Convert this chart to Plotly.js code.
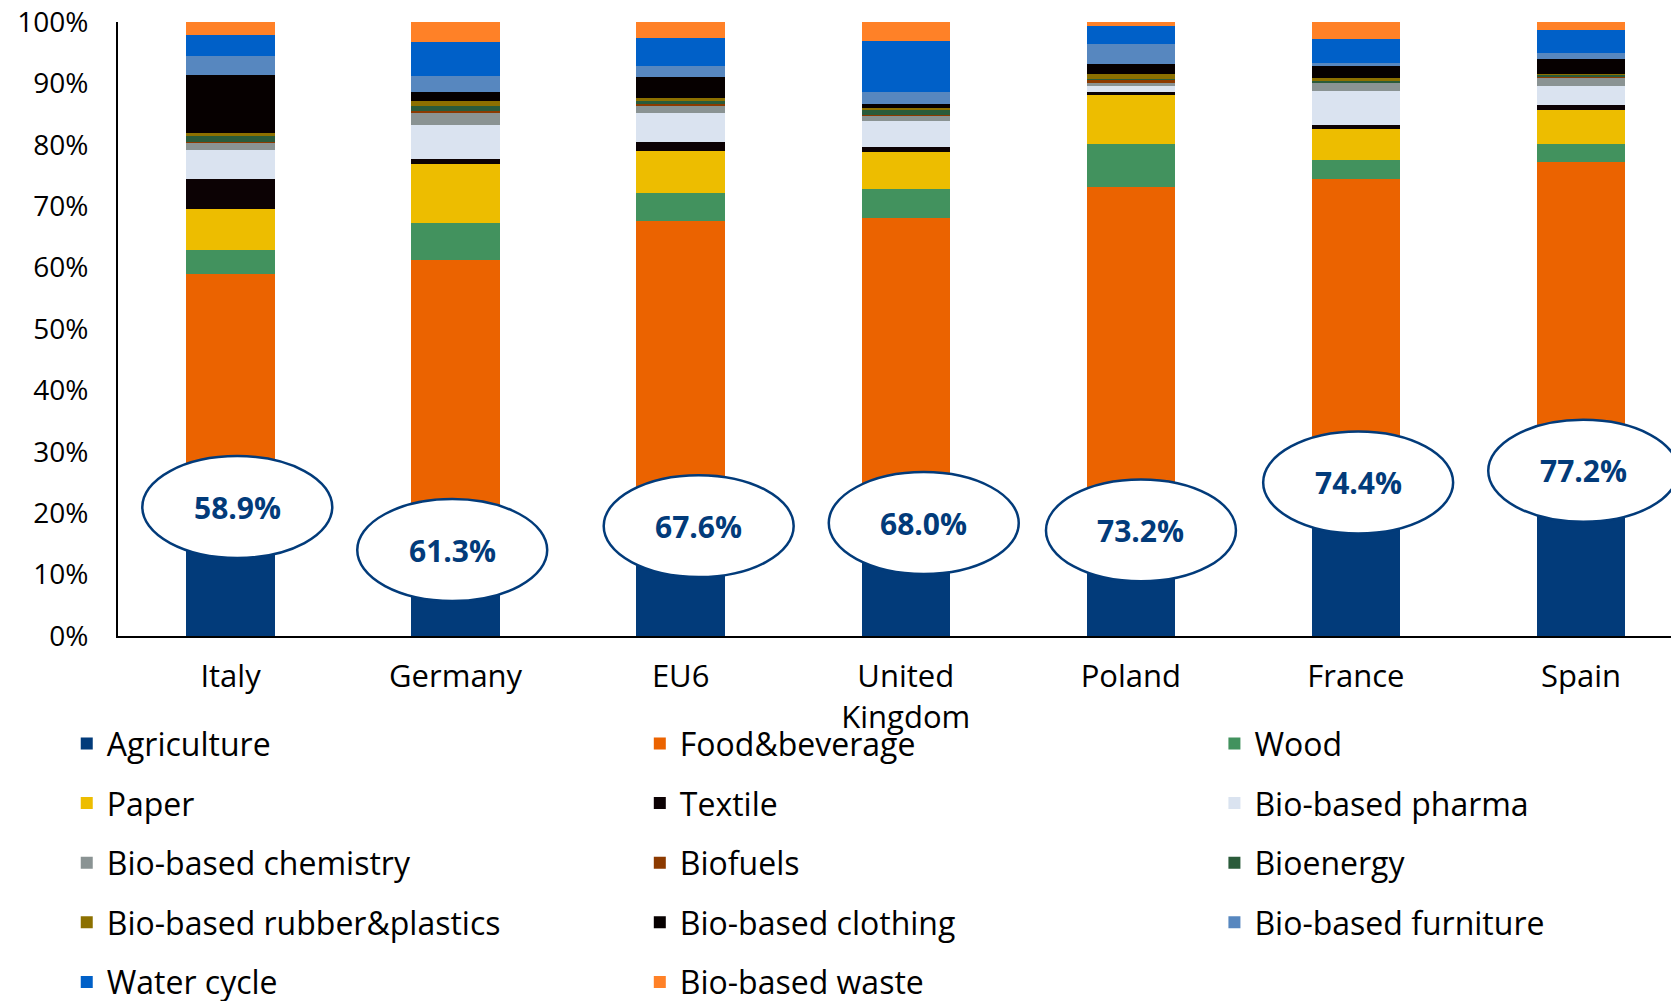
<!DOCTYPE html>
<html>
<head>
<meta charset="utf-8">
<script src="https://cdn.plot.ly/plotly-3.0.1.min.js"></script>
<style>html,body{margin:0;padding:0;background:#fff;}#chart{width:1671px;height:1001px;}</style>
</head>
<body>
<div id="chart"></div>
<script>
const countries = ["Italy", "Germany", "EU6", "United<br>Kingdom", "Poland", "France", "Spain"];

const agriculture  = [21.0, 14.0, 17.9, 18.4, 17.2, 25.0, 26.9];
const foodBeverage = [37.9, 47.3, 49.7, 49.6, 56.0, 49.4, 50.3];
const wood         = [4.0, 6.0, 4.5, 4.8, 6.9, 3.1, 2.9];
const paper        = [6.6, 9.5, 6.9, 6.1, 8.0, 5.1, 5.5];
const textile      = [4.9, 0.9, 1.5, 0.7, 0.5, 0.6, 0.9];
const pharma       = [4.7, 5.5, 4.6, 4.3, 1.0, 5.5, 3.1];
const chemistry    = [1.2, 2.0, 1.3, 0.8, 0.4, 1.3, 1.2];
const biofuels     = [0.1, 0.3, 0.2, 0.1, 0.5, 0.1, 0.2];
const bioenergy    = [1.0, 0.8, 0.5, 0.8, 0.2, 0.3, 0.3];
const rubber       = [0.6, 0.9, 0.6, 0.4, 0.8, 0.4, 0.3];
const clothing     = [9.4, 1.4, 3.3, 0.7, 1.6, 2.0, 2.3];
const furniture    = [3.0, 2.6, 1.9, 1.9, 3.3, 0.6, 1.0];
const waterCycle   = [3.5, 5.5, 4.5, 8.3, 3.0, 3.8, 3.8];
const waste        = [2.2, 3.3, 2.6, 3.1, 0.6, 2.8, 1.3];

// label ellipse horizontal nudges (category units) – layout only
const labelNudge = [0.03, -0.015, 0.08, 0.08, 0.045, 0.01, 0.01];

const series = [
  {name: "Agriculture", y: agriculture, color: "#023B7A", legend: "legend"},
  {name: "Food&beverage", y: foodBeverage, color: "#EB6300", legend: "legend2"},
  {name: "Wood", y: wood, color: "#42925E", legend: "legend3"},
  {name: "Paper", y: paper, color: "#EDBD00", legend: "legend"},
  {name: "Textile", y: textile, color: "#0C0204", legend: "legend2"},
  {name: "Bio-based pharma", y: pharma, color: "#DAE3F0", legend: "legend3"},
  {name: "Bio-based chemistry", y: chemistry, color: "#8A9393", legend: "legend"},
  {name: "Biofuels", y: biofuels, color: "#8C3A00", legend: "legend2"},
  {name: "Bioenergy", y: bioenergy, color: "#2A5B3A", legend: "legend3"},
  {name: "Bio-based rubber&plastics", y: rubber, color: "#8C7000", legend: "legend"},
  {name: "Bio-based clothing", y: clothing, color: "#060000", legend: "legend2"},
  {name: "Bio-based furniture", y: furniture, color: "#5787BF", legend: "legend3"},
  {name: "Water cycle", y: waterCycle, color: "#0060C8", legend: "legend"},
  {name: "Bio-based waste", y: waste, color: "#FF8127", legend: "legend2"}
];

const FONT = "'Open Sans', Lato, sans-serif";
const NAVY = "#023B7A";

const traces = series.map((s, i) => ({
  type: "bar",
  name: s.name,
  x: countries.map((c, k) => k),
  y: s.y,
  marker: {color: s.color, line: {width: 0}},
  legend: s.legend,
  legendgroup: "g" + i,
  hoverinfo: "name+y"
}));

const shapes = [];
const annotations = [];
countries.forEach((c, k) => {
  const cx = k + labelNudge[k];
  const cy = agriculture[k];
  shapes.push({
    type: "circle", xref: "x", yref: "y",
    x0: cx - 0.422, x1: cx + 0.422, y0: cy - 8.3, y1: cy + 8.3,
    fillcolor: "#ffffff", line: {color: NAVY, width: 2.5}, layer: "above"
  });
  annotations.push({
    x: cx, y: cy, xref: "x", yref: "y", showarrow: false,
    text: "<b>" + (agriculture[k] + foodBeverage[k]).toFixed(1) + "%</b>",
    font: {family: FONT, size: 30, color: NAVY}
  });
});

const legendBase = {
  orientation: "v", yanchor: "top", xanchor: "left",
  yref: "container", y: 0.2845, bgcolor: "rgba(0,0,0,0)",
  font: {family: FONT, size: 32, color: "#000"},
  tracegroupgap: 15, traceorder: "grouped", itemwidth: 30
};

const layout = {
  width: 1671, height: 1001,
  margin: {l: 118, r: 0, t: 22, b: 365},
  paper_bgcolor: "#fff", plot_bgcolor: "#fff",
  barmode: "stack", bargap: 0.607,
  showlegend: true,
  font: {family: FONT, color: "#000"},
  xaxis: {
    type: "linear", range: [-0.5, 6.4],
    tickmode: "array", tickvals: countries.map((c, k) => k), ticktext: countries,
    tickfont: {family: FONT, size: 31, color: "#000"},
    ticklabelstandoff: 12,
    showline: true, linecolor: "#000", linewidth: 2,
    showgrid: false, zeroline: false, ticks: "", automargin: false,
    fixedrange: true
  },
  yaxis: {
    range: [0, 100], tickmode: "linear", tick0: 0, dtick: 10, ticksuffix: "%",
    tickfont: {family: FONT, size: 28, color: "#000"},
    ticklabelstandoff: 22,
    showline: true, linecolor: "#000", linewidth: 2,
    showgrid: false, zeroline: false, ticks: "", automargin: false
  },
  legend: Object.assign({}, legendBase, {x: -0.033}),
  legend2: Object.assign({}, legendBase, {x: 0.336}),
  legend3: Object.assign({}, legendBase, {x: 0.706}),
  shapes: shapes,
  annotations: annotations
};

Plotly.newPlot("chart", traces, layout, {displayModeBar: false, staticPlot: true});
</script>
</body>
</html>
